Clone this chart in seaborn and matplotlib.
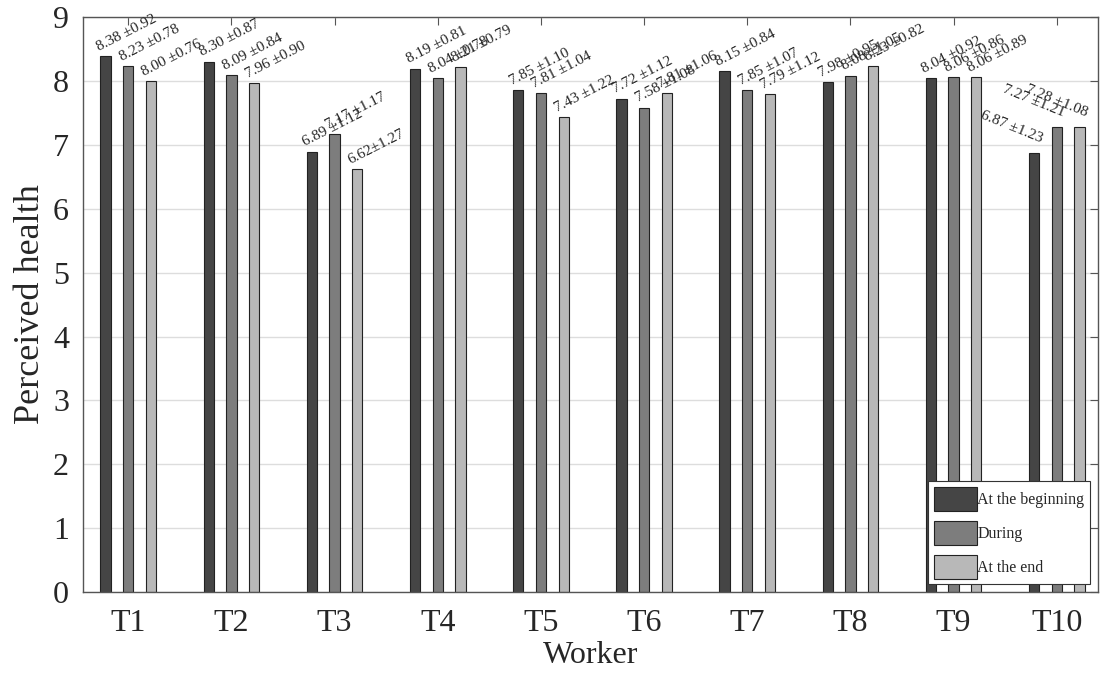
import pandas as pd
import numpy as np
import seaborn as sns
import matplotlib.pyplot as plt

workers = ["T1", "T2", "T3", "T4", "T5", "T6", "T7", "T8", "T9", "T10"]
phases = ["At the beginning", "During", "At the end"]

mean_begin = [8.38, 8.30, 6.89, 8.19, 7.85, 7.72, 8.15, 7.98, 8.04, 6.87]
mean_during = [8.23, 8.09, 7.17, 8.04, 7.81, 7.58, 7.85, 8.08, 8.06, 7.27]
mean_end = [8.00, 7.96, 6.62, 8.21, 7.43, 7.81, 7.79, 8.23, 8.06, 7.28]

sd_begin = [0.92, 0.87, 1.12, 0.81, 1.10, 1.12, 0.84, 0.95, 0.92, 1.23]
sd_during = [0.78, 0.84, 1.17, 0.78, 1.04, 1.08, 1.07, 1.05, 0.86, 1.21]
sd_end = [0.76, 0.90, 1.27, 0.79, 1.22, 1.06, 1.12, 0.82, 0.89, 1.08]

colors = ["#454545", "#7d7d7d", "#b8b8b8"]

# long table for seaborn
rows = []
for ph, m, s in zip(phases, [mean_begin, mean_during, mean_end], [sd_begin, sd_during, sd_end]):
    for w, mv, sv in zip(workers, m, s):
        rows.append({"Worker": w, "Phase": ph, "mean": mv, "sd": sv})
df = pd.DataFrame(rows)

sns.set_style("white")
plt.rcParams['font.family'] = ['Liberation Serif', 'DejaVu Serif']

fig = plt.figure(figsize=(11.05, 6.73), dpi=100)
ax = fig.add_axes([0.075, 0.12, 0.9187, 0.855])

sns.barplot(data=df, x="Worker", y="mean", hue="Phase", order=workers, hue_order=phases,
            palette=colors, width=0.66, gap=0.55, edgecolor="#222222", linewidth=0.8,
            saturation=1, ax=ax, errorbar=None)

ax.set_ylim(0, 9)
ax.set_xlim(-0.44, 9.4)
ax.set_yticks(range(10))
ax.yaxis.grid(True, color="#dddddd", linewidth=1)
ax.set_axisbelow(True)
ax.tick_params(axis="both", direction="in", top=True, right=True, labelsize=23, length=6,
               color="#555555")
ax.tick_params(axis="x", pad=12)
ax.tick_params(axis="y", pad=10)
for sp in ax.spines.values():
    sp.set_color("#555555")
    sp.set_linewidth(1)

ax.set_xlabel("Worker", fontsize=23, labelpad=2)
ax.set_ylabel("Perceived health", fontsize=26, labelpad=4)

# value labels
for ci, cont in enumerate(ax.containers):
    ph = phases[ci]
    sub = df[df["Phase"] == ph].set_index("Worker").loc[workers]
    for bar, (w, r) in zip(cont, sub.iterrows()):
        x0 = bar.get_x()
        h = bar.get_height()
        sep = "±" if (w == "T3" and ph == "At the end") else " ±"
        txt = f"{r['mean']:.2f}{sep}{r['sd']:.2f}"
        if w == "T10":
            ax.text(x0 + bar.get_width(), h + 0.12, txt, rotation=-22, rotation_mode="anchor",
                    ha="right", va="bottom", fontsize=11)
        else:
            ax.text(x0, h + 0.04, txt, rotation=27, rotation_mode="anchor",
                    ha="left", va="bottom", fontsize=11)

leg = ax.legend(loc="lower right", fontsize=11.5, frameon=True, fancybox=False, framealpha=1,
                handlelength=2.7, handleheight=1.9, labelspacing=0.65, borderpad=0.35,
                handletextpad=0.05, borderaxespad=0.5)
leg.get_frame().set_edgecolor("#333333")
leg.get_frame().set_linewidth(0.8)
leg.set_title(None)

fig.savefig("out.png", dpi=100)
